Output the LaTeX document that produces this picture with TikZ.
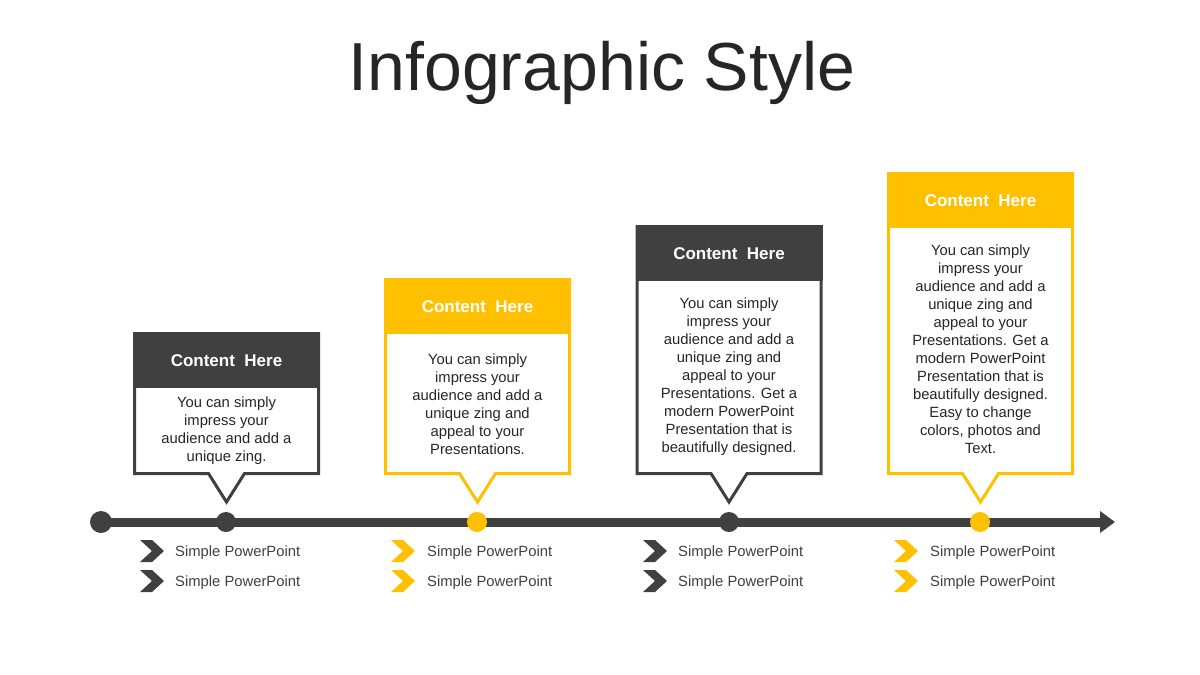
\documentclass[tikz,border=0pt]{standalone}
\usepackage{fontspec}
\setmainfont{Liberation Sans}
\usetikzlibrary{arrows.meta}
\definecolor{dk}{HTML}{404040}
\definecolor{yl}{HTML}{FFC000}
\definecolor{tx}{HTML}{262626}
\newcommand\infobox[4]{% #1 cx, #2 top, #3 color, #4 name
  \draw[line width=3pt, draw=#3, fill=white, line join=miter]
    ({#1-92},{#2+1.5}) -- ({#1+92},{#2+1.5}) -- ({#1+92},473.5) -- ({#1+18},473.5)
    -- ({#1},502) -- ({#1-18},473.5) -- ({#1-92},473.5) -- cycle;
  \fill[#3] ({#1-93.5},{#2}) rectangle ({#1+93.5},{#2+56});
  \node[headtxt] (#4h) at ({#1},{#2+29}) {Content\ \ Here};
}
\newcommand\chev[3]{% #1 left x, #2 center y, #3 color
  \fill[#3] ({#1},{#2-11}) -- ({#1+12},{#2-11}) -- ({#1+24},{#2}) -- ({#1+12},{#2+11})
    -- ({#1},{#2+11}) -- ({#1+12},{#2}) -- cycle;
}
\begin{document}
\begin{tikzpicture}[x=1pt,y=-1pt,
  headtxt/.style={text=white, font=\fontsize{17}{20}\selectfont\bfseries, inner sep=0pt},
  bodytxt/.style={text=tx, font=\fontsize{14.8}{18}\selectfont, align=center, inner sep=0pt},
  itemtxt/.style={text=dk, font=\fontsize{14.8}{18}\selectfont, anchor=west, inner sep=0pt},
  dot/.style={circle, inner sep=0pt, minimum size=20pt}]
\useasboundingbox (0,0) rectangle (1200,675);
\fill[white] (0,0) rectangle (1200,675);

\node[text=tx, font=\fontsize{68}{78}\selectfont, anchor=base, inner sep=0pt] (title) at (602,90) {Infographic Style};

% timeline
\node[dot, fill=dk, minimum size=22pt] (d0) at (101,522) {};
\coordinate (tend) at (1115,522);
\draw[line width=9pt, dk, -{Triangle[length=15pt,width=21pt]}] (d0.center) -- (tend);
\node[dot, fill=dk] (d1) at (226,522) {};
\node[dot, fill=yl] (d2) at (477,522) {};
\node[dot, fill=dk] (d3) at (729,522) {};
\node[dot, fill=yl] (d4) at (980,522) {};

% boxes
\infobox{226.5}{332}{dk}{b1}
\infobox{477.5}{278}{yl}{b2}
\infobox{729}{225}{dk}{b3}
\infobox{980.5}{172}{yl}{b4}

\node[bodytxt] (b1t) at (226.5,431) {You can simply\\impress your\\audience and add a\\unique zing.};
\node[bodytxt] (b2t) at (477.5,404) {You can simply\\impress your\\audience and add a\\unique zing and\\appeal to your\\Presentations.};
\node[bodytxt] (b3t) at (729,377) {You can simply\\impress your\\audience and add a\\unique zing and\\appeal to your\\Presentations. Get a\\modern PowerPoint\\Presentation that is\\beautifully designed.};
\node[bodytxt] (b4t) at (980.5,349) {You can simply\\impress your\\audience and add a\\unique zing and\\appeal to your\\Presentations. Get a\\modern PowerPoint\\Presentation that is\\beautifully designed.\\Easy to change\\colors, photos and\\Text.};

% bullet items
\chev{140}{551}{dk}\chev{140}{581}{dk}
\chev{391}{551}{yl}\chev{391}{581}{yl}
\chev{643}{551}{dk}\chev{643}{581}{dk}
\chev{894}{551}{yl}\chev{894}{581}{yl}
\node[itemtxt] (i1a) at (175,553) {Simple PowerPoint};
\node[itemtxt] (i1b) at (175,583) {Simple PowerPoint};
\node[itemtxt] (i2a) at (427,553) {Simple PowerPoint};
\node[itemtxt] (i2b) at (427,583) {Simple PowerPoint};
\node[itemtxt] (i3a) at (678,553) {Simple PowerPoint};
\node[itemtxt] (i3b) at (678,583) {Simple PowerPoint};
\node[itemtxt] (i4a) at (930,553) {Simple PowerPoint};
\node[itemtxt] (i4b) at (930,583) {Simple PowerPoint};
\end{tikzpicture}
\end{document}
